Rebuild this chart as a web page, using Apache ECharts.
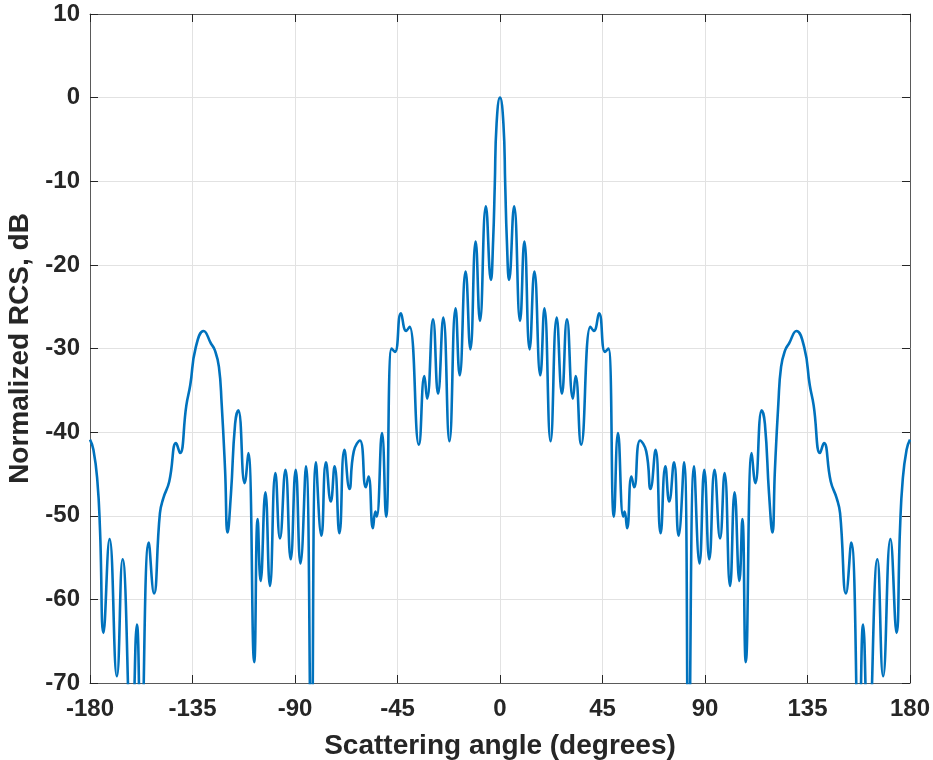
<!DOCTYPE html>
<html>
<head>
<meta charset="utf-8">
<script src="https://cdn.jsdelivr.net/npm/echarts@6/dist/echarts.min.js"></script>
<style>
html,body{margin:0;padding:0;background:#fff;}
#chart{width:933px;height:760px;}
</style>
</head>
<body>
<div id="chart"></div>
<script>
// Scattering angle (degrees), left half: -180 .. -1.5
const anglesLeft = [-180,-178.5,-176.8,-175.6,-174.1,-171.4,-168.2,-165.7,-161.7,-159.4,-157.6,-154.2,-151.9,-149.3,-147.8,-145.2,-142.2,-140.5,-137.7,-136.0,-133.6,-130.1,-126.9,-125.2,-123.4,-122.2,-120.7,-119.6,-118.1,-116.3,-114.9,-112.1,-110.5,-107.9,-106.4,-105.1,-103.0,-101.0,-98.6,-96.6,-94.2,-91.9,-89.7,-87.6,-85.2,-82.8,-80.8,-78.4,-76.4,-74.3,-72.6,-70.5,-68.3,-66.1,-64.2,-61.5,-58.9,-57.7,-55.8,-54.7,-54.1,-51.8,-50.0,-47.6,-46.1,-43.5,-41.2,-39.7,-35.6,-33.2,-32.0,-29.4,-27.2,-24.9,-22.2,-19.5,-17.7,-15.1,-13.0,-10.7,-8.8,-6.2,-4.0,-3.0,-2.3,-1.5];
// Normalized RCS (dB), left half
const rcsLeft = [-40.9,-42.1,-45.7,-51.7,-64.0,-52.8,-69.2,-55.2,-78,-63.0,-78,-53.2,-59.3,-49.7,-47.9,-45.9,-41.3,-42.5,-36.8,-34.4,-29.9,-27.9,-29.4,-30.2,-32.2,-36.6,-44.5,-52.0,-47.3,-39,-37.4,-46.1,-42.5,-67.5,-50.4,-57.8,-47.2,-58.4,-44.9,-52.7,-44.5,-55.2,-44.5,-55.7,-44.1,-78,-43.6,-52.4,-43.6,-48.3,-44.1,-52.1,-42.1,-46.8,-42.3,-41.0,-46.6,-45.3,-51.5,-49.5,-50.1,-40.1,-50.1,-30.0,-30.4,-25.8,-27.9,-27.4,-41.5,-33.3,-36.0,-26.5,-35.4,-26.3,-41.1,-25.2,-33.2,-20.8,-30.1,-17.2,-26.7,-13.0,-21.8,-17,-10.5,-3.1];
// Scattering angle (degrees), right half: 0 .. 180
const anglesRight = [0,1.5,2.3,3.0,4.0,6.2,8.8,10.7,13.0,15.1,17.7,19.5,22.2,24.9,27.2,29.4,32.0,33.2,35.6,39.7,41.2,43.5,46.1,47.6,50.0,51.8,54.1,54.7,55.8,57.7,58.9,61.5,64.2,66.1,68.3,70.5,72.6,74.3,76.4,78.4,80.8,82.8,85.2,87.6,89.7,91.9,94.2,96.6,98.6,101.0,103.0,105.1,106.4,107.9,110.5,112.1,114.9,116.3,118.1,119.6,120.7,122.2,123.4,125.2,126.9,130.1,133.6,136.0,137.7,140.5,142.2,145.2,147.8,149.3,151.9,154.2,157.6,159.4,161.7,165.7,168.2,171.4,174.1,175.6,176.8,178.5,180];
// Normalized RCS (dB), right half
const rcsRight = [0,-3.1,-10.5,-17,-21.8,-13.0,-26.7,-17.2,-30.1,-20.8,-33.2,-25.2,-41.1,-26.3,-35.4,-26.5,-36.0,-33.3,-41.5,-27.4,-27.9,-25.8,-30.4,-30.0,-50.1,-40.1,-50.1,-49.5,-51.5,-45.3,-46.6,-41.0,-42.3,-46.8,-42.1,-52.1,-44.1,-48.3,-43.6,-52.4,-43.6,-78,-44.1,-55.7,-44.5,-55.2,-44.5,-52.7,-44.9,-58.4,-47.2,-57.8,-50.4,-67.5,-42.5,-46.1,-37.4,-39,-47.3,-52.0,-44.5,-36.6,-32.2,-30.2,-29.4,-27.9,-29.9,-34.4,-36.8,-42.5,-41.3,-45.9,-47.9,-49.7,-59.3,-53.2,-78,-63.0,-78,-55.2,-69.2,-52.8,-64.0,-51.7,-45.7,-42.1,-40.9];

const xTicks = [-180,-135,-90,-45,0,45,90,135,180];
const yTicks = [-70,-60,-50,-40,-30,-20,-10,0,10];
const xTitle = 'Scattering angle (degrees)';
const yTitle = 'Normalized RCS, dB';

const angles = anglesLeft.concat(anglesRight);
const rcs = rcsLeft.concat(rcsRight);
const seriesData = angles.map((a, i) => [a, rcs[i]]);

const FONT = '"Liberation Sans", Arial, Helvetica, sans-serif';
const axisCol = '#5a5a5a';
const tickCol = '#262626';
const gridCol = '#e2e2e2';

const chart = echarts.init(document.getElementById('chart'), null, {renderer: 'canvas'});
chart.setOption({
  animation: false,
  backgroundColor: '#ffffff',
  grid: {left: 90, right: 23, top: 14, bottom: 77, containLabel: false, outerBoundsMode: 'none'},
  xAxis: [{
    type: 'value', min: xTicks[0], max: xTicks[xTicks.length - 1], interval: 45,
    position: 'bottom',
    name: xTitle, nameLocation: 'middle', nameGap: 49,
    nameTextStyle: {fontFamily: FONT, fontWeight: 'bold', fontSize: 28, color: tickCol},
    axisLine: {show: true, onZero: false, lineStyle: {color: axisCol, width: 1}},
    axisTick: {show: true, inside: true, length: 8, lineStyle: {color: tickCol, width: 1}},
    axisLabel: {fontFamily: FONT, fontWeight: 'bold', fontSize: 24, color: tickCol, margin: 14},
    splitLine: {show: true, lineStyle: {color: gridCol, width: 1}}
  }, {
    type: 'value', min: xTicks[0], max: xTicks[xTicks.length - 1], interval: 45,
    position: 'top',
    axisLine: {show: true, onZero: false, lineStyle: {color: axisCol, width: 1}},
    axisTick: {show: true, inside: true, length: 8, lineStyle: {color: tickCol, width: 1}},
    axisLabel: {show: false},
    splitLine: {show: false}
  }],
  yAxis: [{
    type: 'value', min: yTicks[0], max: yTicks[yTicks.length - 1], interval: 10,
    position: 'left',
    name: yTitle, nameLocation: 'middle', nameGap: 50, nameRotate: 90,
    nameTextStyle: {fontFamily: FONT, fontWeight: 'bold', fontSize: 28, color: tickCol},
    axisLine: {show: true, onZero: false, lineStyle: {color: axisCol, width: 1}},
    axisTick: {show: true, inside: true, length: 8, lineStyle: {color: tickCol, width: 1}},
    axisLabel: {fontFamily: FONT, fontWeight: 'bold', fontSize: 24, color: tickCol, margin: 10},
    splitLine: {show: true, lineStyle: {color: gridCol, width: 1}}
  }, {
    type: 'value', min: yTicks[0], max: yTicks[yTicks.length - 1], interval: 10,
    position: 'right',
    axisLine: {show: true, onZero: false, lineStyle: {color: axisCol, width: 1}},
    axisTick: {show: true, inside: true, length: 8, lineStyle: {color: tickCol, width: 1}},
    axisLabel: {show: false},
    splitLine: {show: false}
  }],
  series: [{
    type: 'line',
    xAxisIndex: 0, yAxisIndex: 0,
    data: seriesData,
    smooth: 0.5,
    showSymbol: false,
    clip: true,
    lineStyle: {color: '#0072BD', width: 2.6},
    itemStyle: {color: '#0072BD'}
  }]
});
</script>
</body>
</html>
